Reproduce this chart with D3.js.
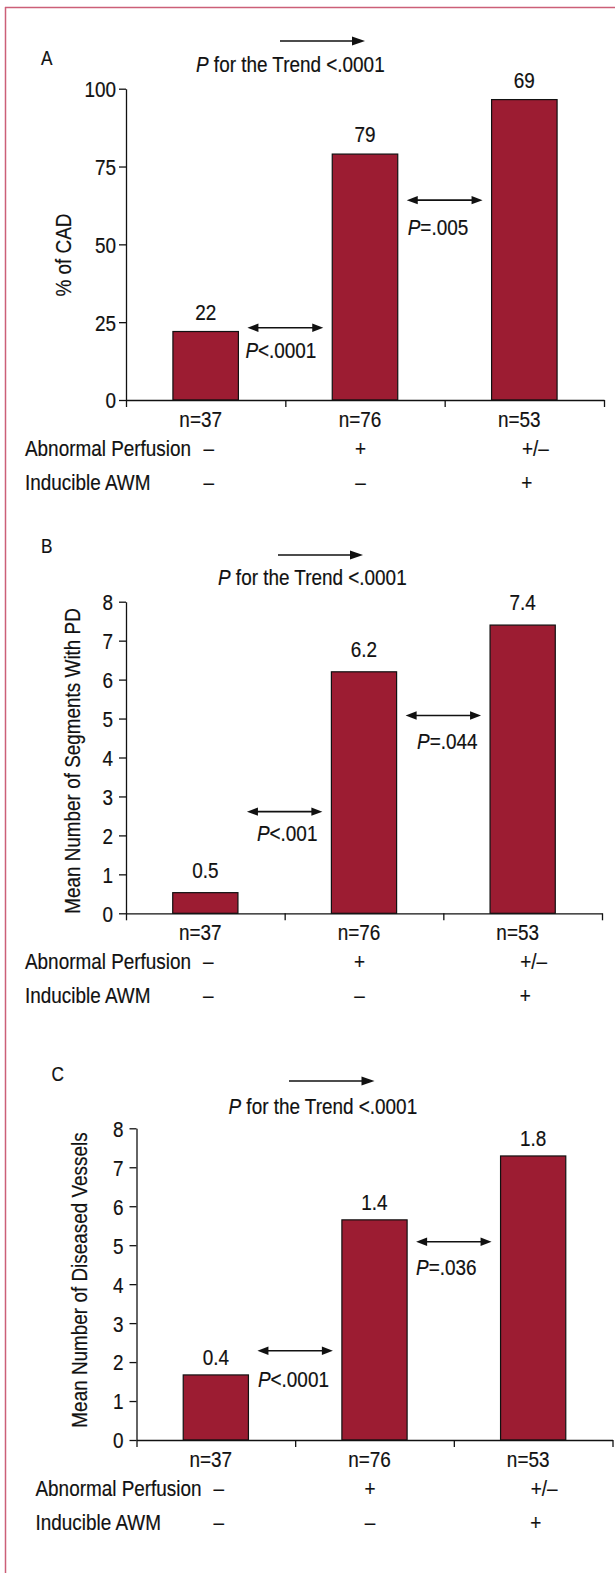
<!DOCTYPE html>
<html><head><meta charset="utf-8">
<script src="https://cdn.jsdelivr.net/npm/d3@7"></script>
<style>
body{margin:0;background:#fff}
text{font-family:"Liberation Sans",Arial,Helvetica,sans-serif;fill:#111;stroke:#111;stroke-width:0.2px}
</style>
</head><body>
<svg id="chart" width="615" height="1573"></svg>
<script>
// ---------- data ----------
const categories = ["n=37", "n=76", "n=53"];
const rowLabels = ["Abnormal Perfusion", "Inducible AWM"];
const perfusionSigns = ["–", "+", "+/–"];
const awmSigns = ["–", "–", "+"];

const cadValues = [22, 79, 96.5];          // bar heights as drawn
const cadLabels = ["22", "79", "69"];      // printed value labels
const segmentValues = [0.53, 6.2, 7.4];
const segmentLabels = ["0.5", "6.2", "7.4"];
const vesselValues = [1.67, 5.65, 7.29];
const vesselLabels = ["0.4", "1.4", "1.8"];

const cadTicks = [0, 25, 50, 75, 100];
const countTicks = [0, 1, 2, 3, 4, 5, 6, 7, 8];

const trendLabel = " for the Trend <.0001";
const cadP = ["<.0001", "=.005"];
const segmentP = ["<.001", "=.044"];
const vesselP = ["<.0001", "=.036"];

// ---------- layout ----------
const FS = 22, SX = 0.86;
const BAR = "#9c1c32", INK = "#111";

const panels = [
  { letter: "A", title: "% of CAD", values: cadValues, labels: cadLabels, ticks: cadTicks, max: 100, pvals: cadP,
    x0: 126, x1: 604, yTop: 88.7, yBot: 400, letterY: 65, tickGap: 10, ylabX: 70.5, ylabY: 255, labelGap: 12,
    trend: { ax0: 280, ax1: 365, ay: 41, tx: 196, ty: 72 },
    pairs: [{ level: 23.2, dx: -2, dy: 30 }, { level: 64.2, dx: 1, dy: 35 }] },
  { letter: "B", title: "Mean Number of Segments With PD", values: segmentValues, labels: segmentLabels, ticks: countTicks, max: 8, pvals: segmentP,
    x0: 126, x1: 602, yTop: 601.7, yBot: 913.3, letterY: 553, tickGap: 13, ylabX: 80, ylabY: 761, labelGap: 15,
    trend: { ax0: 278, ax1: 363, ay: 555, tx: 218, ty: 585 },
    pairs: [{ level: 2.61, dx: 10, dy: 29 }, { level: 5.08, dx: 11.5, dy: 33.5 }] },
  { letter: "C", title: "Mean Number of Diseased Vessels", values: vesselValues, labels: vesselLabels, ticks: countTicks, max: 8, pvals: vesselP,
    x0: 136.5, x1: 612.5, yTop: 1128.3, yBot: 1440, letterY: 1081, tickGap: 13, ylabX: 87, ylabY: 1280, labelGap: 10,
    trend: { ax0: 289, ax1: 374.5, ay: 1081, tx: 228.5, ty: 1114 },
    pairs: [{ level: 2.29, dx: 0.5, dy: 36 }, { level: 5.09, dx: 0, dy: 33.5 }] }
];
const perfOffsets = [3, -4.5, 11];
const awmOffsets = [3, -4.5, 2.5];

const svg = d3.select("#chart");

function txt(g, x, y, s, anchor = "start", fs = FS, rot = 0) {
  const t = g.append("text")
    .attr("transform", `translate(${x},${y})${rot ? ` rotate(${rot})` : ""} scale(${SX},1)`)
    .attr("text-anchor", anchor)
    .style("font-size", fs + "px");
  if (s !== null) t.text(s);
  return t;
}
function pText(g, x, y, rest, anchor = "start") {
  const t = txt(g, x, y, null, anchor);
  t.append("tspan").style("font-style", "italic").text("P");
  t.append("tspan").text(rest);
  return t;
}
function arrowHead(g, xTip, y, dir, len, half) {
  g.append("path")
    .attr("d", `M${xTip},${y} L${xTip - dir * len},${y - half} L${xTip - dir * len},${y + half} Z`)
    .attr("fill", INK);
}
function doubleArrow(g, xa, xb, y) {
  const hl = 11, hh = 4.2;
  g.append("line").attr("x1", xa + hl - 1).attr("x2", xb - hl + 1).attr("y1", y).attr("y2", y)
    .attr("stroke", INK).attr("stroke-width", 1.6);
  arrowHead(g, xa, y, -1, hl, hh);
  arrowHead(g, xb, y, 1, hl, hh);
}

// frame
svg.append("line").attr("x1", 5).attr("x2", 615).attr("y1", 7.5).attr("y2", 7.5)
  .attr("stroke", "#cc5f78").attr("stroke-width", 1.5);
svg.append("line").attr("x1", 5.5).attr("x2", 5.5).attr("y1", 7).attr("y2", 1573)
  .attr("stroke", "#cc5f78").attr("stroke-width", 1.5);

panels.forEach(p => {
  const g = svg.append("g");
  const y = d3.scaleLinear().domain([0, p.max]).range([p.yBot, p.yTop]);
  const xb = d3.scaleBand().domain(categories).range([p.x0, p.x1]).paddingInner(0.589).paddingOuter(0.2945);
  const xl = d3.scaleLinear().domain([0, categories.length]).range([p.x0, p.x1]);
  const bw = xb.bandwidth();
  const cx = c => xb(c) + bw / 2;

  // bars
  g.selectAll("rect.bar").data(p.values).join("rect").attr("class", "bar")
    .attr("x", (d, i) => xb(categories[i])).attr("y", d => y(d))
    .attr("width", bw).attr("height", d => p.yBot - y(d))
    .attr("fill", BAR).attr("stroke", INK).attr("stroke-width", 1.2);

  // value labels
  p.values.forEach((v, i) => txt(g, cx(categories[i]), y(v) - p.labelGap, p.labels[i], "middle"));

  // y axis
  const ay = g.append("g").attr("transform", `translate(${p.x0},0)`)
    .call(d3.axisLeft(y).tickValues(p.ticks).tickSize(7).tickSizeOuter(0));
  ay.attr("font-size", null).attr("font-family", null);
  ay.selectAll("path,line").attr("stroke", INK).attr("stroke-width", 1.3);
  ay.selectAll("text").attr("x", -p.tickGap / SX).attr("dy", "0.36em")
    .attr("transform", `scale(${SX},1)`).style("font-size", FS + "px").attr("fill", INK);

  // x axis
  const axx = g.append("g").attr("transform", `translate(0,${p.yBot})`)
    .call(d3.axisBottom(xl).tickValues(d3.range(categories.length + 1)).tickFormat("").tickSize(7).tickSizeOuter(0));
  axx.selectAll("path,line").attr("stroke", INK).attr("stroke-width", 1.3);

  // y title
  txt(g, p.ylabX, p.ylabY, p.title, "middle", FS, -90);

  // panel letter
  txt(g, p.x0 - 85, p.letterY, p.letter, "start", 20);

  // trend arrow + text
  const t = p.trend;
  g.append("line").attr("x1", t.ax0).attr("x2", t.ax1 - 11).attr("y1", t.ay).attr("y2", t.ay)
    .attr("stroke", INK).attr("stroke-width", 1.6);
  arrowHead(g, t.ax1, t.ay, 1, 13, 4.5);
  pText(g, t.tx, t.ty, trendLabel);

  // pairwise comparison arrows
  p.pairs.forEach((pr, i) => {
    const xa = xb(categories[i]) + bw + 9;
    const xe = xb(categories[i + 1]) - 9;
    const yy = y(pr.level);
    doubleArrow(g, xa, xe, yy);
    pText(g, xa + pr.dx, yy + pr.dy, p.pvals[i]);
  });

  // category rows
  categories.forEach((c, i) => {
    txt(g, cx(c) - 5, p.yBot + 27, c, "middle");
    txt(g, cx(c) + perfOffsets[i], p.yBot + 56, perfusionSigns[i], "middle");
    txt(g, cx(c) + awmOffsets[i], p.yBot + 90, awmSigns[i], "middle");
  });
  txt(g, p.x0 - 101, p.yBot + 56, rowLabels[0]);
  txt(g, p.x0 - 101, p.yBot + 90, rowLabels[1]);
});
</script>
</body></html>
